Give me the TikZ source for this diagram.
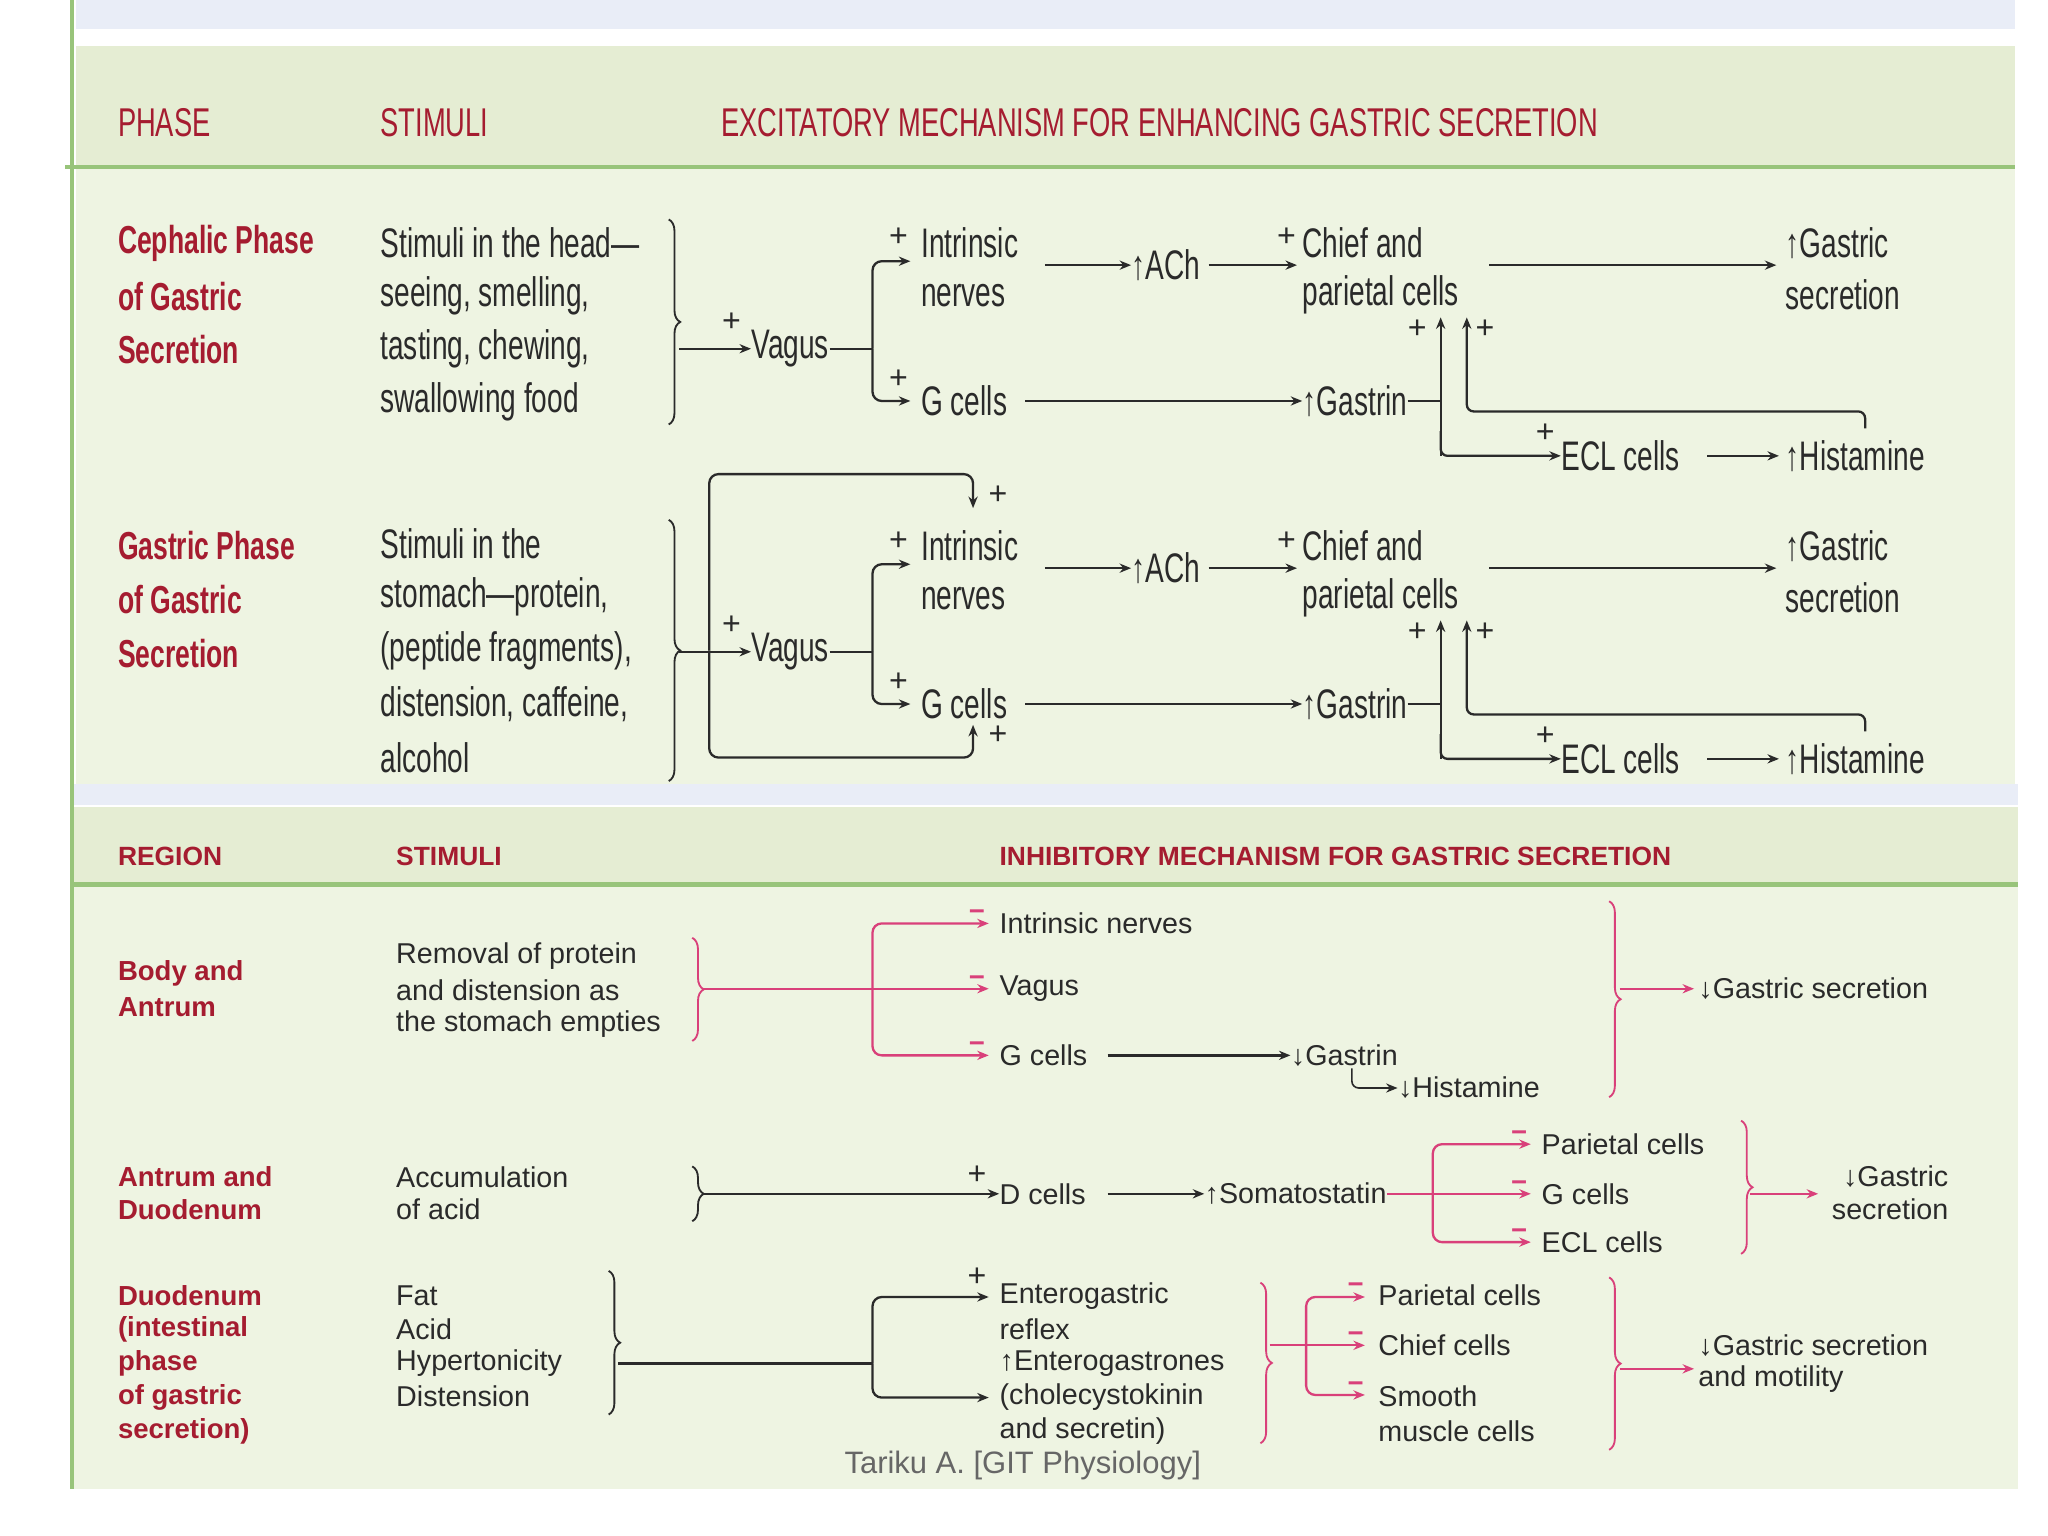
\documentclass[tikz,border=0pt]{standalone}
\usepackage{fontspec}
\setmainfont{Liberation Sans}
\newfontfamily\cond{Liberation Sans}[FakeStretch=0.68]
\usetikzlibrary{arrows.meta,decorations.pathreplacing}
\definecolor{rd}{HTML}{A51C30}
\definecolor{mg}{HTML}{D9407A}
\definecolor{pg}{HTML}{EEF4E2}
\definecolor{hg}{HTML}{E5EDD3}
\definecolor{lg}{HTML}{98C47A}
\definecolor{bb}{HTML}{E9EDF7}
\definecolor{tx}{HTML}{2A2A2A}
\begin{document}
\begin{tikzpicture}[x=0.02cm,y=-0.02cm,
  t/.style={inner sep=0pt,anchor=west,text=tx,font=\cond\fontsize{18}{20}\selectfont},
  th/.style={inner sep=0pt,anchor=west,text=rd,font=\cond\fontsize{17.5}{20}\selectfont},
  tr/.style={inner sep=0pt,anchor=west,text=rd,font=\cond\bfseries\fontsize{17}{20}\selectfont},
  b/.style={inner sep=0pt,anchor=west,text=tx,font=\fontsize{12.5}{14}\selectfont},
  bh/.style={inner sep=0pt,anchor=west,text=rd,font=\bfseries\fontsize{11.5}{14}\selectfont},
  br/.style={inner sep=0pt,anchor=west,text=rd,font=\bfseries\fontsize{12}{14}\selectfont},
  sg/.style={inner sep=0pt,text=tx,font=\fontsize{14}{14}\selectfont},
  msg/.style={inner sep=0pt,text=mg,font=\bfseries\fontsize{12}{14}\selectfont},
  arr/.style={draw=tx,line width=1pt,-{Stealth[length=5pt,width=4pt]}},
  ln/.style={draw=tx,line width=1pt},
  marr/.style={draw=mg,line width=1pt,-{Stealth[length=5pt,width=4pt]}},
  mln/.style={draw=mg,line width=1pt},
  brc/.style={draw=tx,line width=0.8pt,decorate,decoration={brace,amplitude=5pt}},
  mbrc/.style={draw=mg,line width=0.8pt,decorate,decoration={brace,amplitude=5pt}}]
\useasboundingbox (0,0) rectangle (1568,1176);
\fill[white] (0,0) rectangle (1568,1176);
% backgrounds
\fill[bb] (58,0) rectangle (1543,22);
\fill[pg] (58,35) rectangle (1543,600);
\fill[hg] (58,35) rectangle (1543,128);
\fill[bb] (55,600) rectangle (1545,616);
\fill[pg] (55,618) rectangle (1545,1140);
\fill[hg] (55,618) rectangle (1545,677);
\draw[lg,line width=2pt] (50,128) -- (1543,128);
\draw[lg,line width=2pt] (55,677) -- (1545,677);
\draw[lg,line width=1.5pt] (55,0) -- (55,1140);
% top headers
\node[th] (h1) at (90,94) {PHASE};
\node[th] (h2) at (291,94) {STIMULI};
\node[th] (h3) at (552,94) {EXCITATORY MECHANISM FOR ENHANCING GASTRIC SECRETION};
% phase labels
\foreach \l [count=\i] in {Cephalic Phase,of Gastric,Secretion}
  \node[tr] (cp\i) at (90,186+41*\i-41) {\l};
\foreach \l [count=\i] in {Gastric Phase,of Gastric,Secretion}
  \node[tr] (gp\i) at (90,418+41*\i-41) {\l};
\foreach \l [count=\i] in {{Stimuli in the head—},{seeing, smelling,},{tasting, chewing,},{swallowing food}}
  \node[t] (cs\i) at (291,186+40.5*\i-40.5) {\l};
\foreach \l [count=\i] in {{Stimuli in the},{stomach—protein,},{(peptide fragments),},{distension, caffeine,},{alcohol}}
  \node[t] (gs\i) at (291,416+41*\i-41) {\l};
\draw[brc] (512,168) -- (512,325);
\draw[brc] (512,398) -- (512,598);
% repeated phase mechanism
\foreach \o/\s in {0/a,232/b}{
  \node[t] (vag\s) at (575,267+\o) {Vagus};
  \node[sg] (pv\s) at (560,247+\o) {+};
  \coordinate (bt\s) at (520,267+\o);
  \draw[arr] (bt\s) -- (vag\s.west);
  \coordinate (fk\s) at (668,267+\o);
  \draw[ln] (vag\s.east) -- (fk\s);
  \node[t] (in\s) at (705,186+\o) {Intrinsic};
  \node[t] (ne\s) at (705,226+\o) {nerves};
  \node[t] (gc\s) at (705,307+\o) {G cells};
  \draw[arr,rounded corners=4pt] (fk\s) |- (697,200+\o);
  \draw[arr,rounded corners=4pt] (fk\s) |- (697,307+\o);
  \node[sg] (pi\s) at (688,182+\o) {+};
  \node[sg] (pg\s) at (688,290+\o) {+};
  \node[t] (ach\s) at (866,203+\o) {↑ACh};
  \draw[arr] (800,203+\o) -- (ach\s.west);
  \node[t] (ch\s) at (997,186+\o) {Chief and};
  \node[t] (pa\s) at (997,226+\o) {parietal cells};
  \draw[arr] (ach\s.east) ++(6,0) -- (993,203+\o);
  \node[sg] (pc\s) at (985,182+\o) {+};
  \node[t] (gsa\s) at (1367,186+\o) {↑Gastric};
  \node[t] (gsb\s) at (1367,226+\o) {secretion};
  \draw[arr] (1140,203+\o) -- (1360,203+\o);
  \node[t] (gas\s) at (997,307+\o) {↑Gastrin};
  \draw[arr] (785,307+\o) -- (gas\s.west);
  \draw[ln] (gas\s.east) -- (1103,307+\o);
  \draw[arr] (1103,349+\o) -- (1103,243+\o);
  \node[t] (ecl\s) at (1195,349+\o) {ECL cells};
  \draw[arr,rounded corners=3pt] (1103,330+\o) |- (ecl\s.west);
  \node[sg] (pg2\s) at (1085,252+\o) {+};
  \node[sg] (pe\s) at (1183,332+\o) {+};
  \node[t] (his\s) at (1367,349+\o) {↑Histamine};
  \draw[arr] (1307,349+\o) -- (1362,349+\o);
  \draw[arr,rounded corners=3pt] (1428,328+\o) -- (1428,315+\o) -- (1123,315+\o) -- (1123,243+\o);
  \node[sg] (ph\s) at (1137,252+\o) {+};
}
% gastric loops
\coordinate (lp) at (543,498);
\draw[arr,rounded corners=4pt] (lp) |- (745,363) -- (745,389);
\draw[arr,rounded corners=4pt] (lp) |- (745,580) -- (745,555);
\node[sg] (pl1) at (764,379) {+};
\node[sg] (pl2) at (764,563) {+};
% bottom headers
\node[bh] (r1) at (90,656) {REGION};
\node[bh] (r2) at (303,656) {STIMULI};
\node[bh] (r3) at (765,656) {INHIBITORY MECHANISM FOR GASTRIC SECRETION};
% body and antrum
\node[br] (ba1) at (90,745) {Body and};
\node[br] (ba2) at (90,771) {Antrum};
\foreach \l [count=\i] in {{Removal of protein},{and distension as},{the stomach empties}}
  \node[b] (bs\i) at (303,732+26*\i-26) {\l};
\draw[mbrc] (530,718) -- (530,797);
\coordinate (bf) at (668,757);
\draw[mln] (538,757) -- (bf);
\node[b] (bi) at (765,707) {Intrinsic nerves};
\node[b] (bv) at (765,757) {Vagus};
\node[b] (bg) at (765,808) {G cells};
\draw[marr,rounded corners=4pt] (bf) |- (757,707);
\draw[marr] (bf) -- (757,757);
\draw[marr,rounded corners=4pt] (bf) |- (757,808);
\foreach \y/\n in {701/m1,751/m2,802/m3} \node[msg] (\n) at (748,\y) {−};
\node[b] (bgas) at (988,808) {↓Gastrin};
\draw[arr] (848,808) -- (bgas.west);
\node[b] (bhis) at (1070,833) {↓Histamine};
\draw[arr,line width=0.7pt,rounded corners=3pt] (1035,818) |- (bhis.west);
\draw[mbrc] (1232,690) -- (1232,840);
\node[b] (bgs) at (1300,757) {↓Gastric secretion};
\draw[marr] (1240,757) -- (1297,757);
% antrum and duodenum
\node[br] (ad1) at (90,901) {Antrum and};
\node[br] (ad2) at (90,926) {Duodenum};
\node[b] (as1) at (303,901) {Accumulation};
\node[b] (as2) at (303,926) {of acid};
\draw[brc] (530,893) -- (530,935);
\node[b] (dc) at (765,914) {D cells};
\draw[arr] (538,914) -- (dc.west);
\node[sg] (pd) at (748,900) {+};
\node[b] (som) at (922,914) {↑Somatostatin};
\draw[arr] (848,914) -- (som.west);
\coordinate (sf) at (1097,914);
\draw[mln] (som.east) -- (sf);
\node[b] (ap) at (1180,876) {Parietal cells};
\node[b] (ag) at (1180,914) {G cells};
\node[b] (ae) at (1180,951) {ECL cells};
\draw[marr,rounded corners=4pt] (sf) |- (1172,876);
\draw[marr] (sf) -- (1172,914);
\draw[marr,rounded corners=4pt] (sf) |- (1172,951);
\foreach \y/\n in {870/m4,908/m5,945/m6} \node[msg] (\n) at (1163,\y) {−};
\draw[mbrc] (1333,858) -- (1333,960);
\draw[marr] (1340,914) -- (1392,914);
\node[b,anchor=east] (ag1) at (1492,901) {↓Gastric};
\node[b,anchor=east] (ag2) at (1492,926) {secretion};
% duodenum
\foreach \l [count=\i] in {{Duodenum},{(intestinal},{phase},{of gastric},{secretion)}}
  \node[br] (du\i) at (90,992+26*\i-26) {\l};
\foreach \l [count=\i] in {Fat,Acid,Hypertonicity,Distension}
  \node[b] (ds\i) at (303,992+25.7*\i-25.7) {\l};
\draw[brc] (466,973) -- (466,1083);
\coordinate (df) at (668,1044);
\draw[ln] (473,1044) -- (df);
\draw[arr,rounded corners=4pt] (df) |- (757,993);
\draw[arr,rounded corners=4pt] (df) |- (757,1070);
\node[sg] (pdd) at (748,978) {+};
\foreach \l [count=\i] in {{Enterogastric},{reflex},{↑Enterogastrones},{(cholecystokinin},{and secretin)}}
  \node[b] (en\i) at (765,992+26*\i-26) {\l};
\draw[mbrc] (965,982) -- (965,1105);
\coordinate (ef) at (1000,1030);
\draw[mln] (972,1030) -- (ef);
\node[b] (ep) at (1055,992) {Parietal cells};
\node[b] (ec) at (1055,1030) {Chief cells};
\node[b] (es1) at (1055,1069) {Smooth};
\node[b] (es2) at (1055,1096) {muscle cells};
\draw[marr,rounded corners=4pt] (ef) |- (1045,993);
\draw[marr] (ef) -- (1045,1030);
\draw[marr,rounded corners=4pt] (ef) |- (1045,1068);
\foreach \y/\n in {986/m7,1024/m8,1062/m9} \node[msg] (\n) at (1038,\y) {−};
\draw[mbrc] (1232,978) -- (1232,1110);
\draw[marr] (1240,1048) -- (1297,1048);
\node[b] (dg1) at (1300,1030) {↓Gastric secretion};
\node[b] (dg2) at (1300,1056) {and motility};
% footer
\node[inner sep=0pt,text=gray!80!black,font=\fontsize{13.5}{14}\selectfont] (ft) at (783,1122) {Tariku A. [GIT Physiology]};
\end{tikzpicture}
\end{document}
